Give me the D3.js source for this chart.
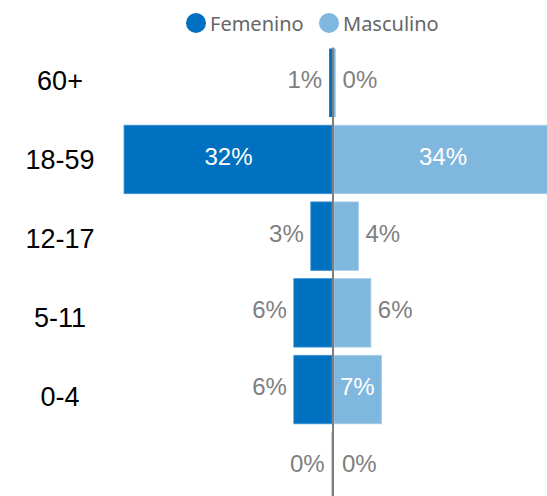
<!DOCTYPE html>
<html><head><meta charset="utf-8">
<script src="https://cdn.jsdelivr.net/npm/d3@7"></script>
<style>html,body{margin:0;padding:0;background:#fff;overflow:hidden}</style>
</head><body>
<script>
const categories = ["60+", "18-59", "12-17", "5-11", "0-4", ""];
const femenino = [0.6, 32, 3.4, 6.0, 6.0, 0.2];
const masculino = [0.4, 34, 3.9, 5.8, 7.45, 0];
const series = ["Femenino", "Masculino"];

const W = 547, H = 496;
const colors = {Femenino: "#0070C0", Masculino: "#7FB7DE"};
const strokes = {Femenino: "#3D93D3", Masculino: "#A9CFEA"};

const svg = d3.select("body").append("svg").attr("width", W).attr("height", H);

const x = d3.scaleLinear().domain([-50, 50]).range([333 - 326.5, 333 + 326.5]);
const y = d3.scaleBand().domain(categories.map((c,i)=>i)).range([44.4, 504.6]).paddingInner(0.107).paddingOuter(0.0535);
const yLab = d3.scaleBand().domain(categories.map((c,i)=>i)).range([40.5, 514.5]);

const data = categories.map((c, i) => ({i, c, f: femenino[i], m: masculino[i]}));

const g = svg.append("g");
// bars
g.selectAll("rect.f").data(data).join("rect")
  .attr("x", d => x(-d.f)).attr("width", d => x(0) - 1 - x(-d.f))
  .attr("y", d => y(d.i)).attr("height", y.bandwidth())
  .attr("fill", colors.Femenino)
  .attr("stroke", d => d.f > 1 ? strokes.Femenino : "none").attr("stroke-width", 0.8);
g.selectAll("rect.m").data(data).join("rect")
  .attr("x", x(0) + 1).attr("width", d => Math.max(0, x(d.m) - x(0) - 1))
  .attr("y", d => y(d.i)).attr("height", y.bandwidth())
  .attr("fill", colors.Masculino)
  .attr("stroke", d => d.m > 1 ? strokes.Masculino : "none").attr("stroke-width", 0.8);

// axis line
svg.append("line").attr("x1", x(0)).attr("x2", x(0)).attr("y1", y(0) - 1).attr("y2", H)
  .attr("stroke", "#7F7F7F").attr("stroke-width", 2);

// data labels
const fs = 24;
const ctx = document.createElement("canvas").getContext("2d");
ctx.font = fs + "px 'Liberation Sans', Arial, sans-serif";
function lbl(v){ return Math.round(v) + "%"; }
data.forEach(d => {
  const cy = y(d.i) + y.bandwidth()/2 - 3 + 0.358*fs;
  // femenino
  const tf = lbl(d.f), wf = ctx.measureText(tf).width, bwf = x(0) - x(-d.f);
  const insideF = wf + 12 < bwf;
  svg.append("text").text(tf)
    .attr("x", insideF ? (x(-d.f) + x(0))/2 : x(-d.f) - 7)
    .attr("y", cy).attr("text-anchor", insideF ? "middle" : "end")
    .attr("fill", insideF ? "#fff" : "#7F7F7F")
    .style("font", fs + "px 'Liberation Sans', Arial, sans-serif");
  const tm = lbl(d.m), wm = ctx.measureText(tm).width, bwm = x(d.m) - x(0);
  const insideM = wm + 12 < bwm;
  const xm = insideM ? (x(0) + Math.min(x(d.m), W + 6))/2 : Math.max(x(d.m), x(0)+2) + 7;
  svg.append("text").text(tm)
    .attr("x", xm)
    .attr("y", cy).attr("text-anchor", insideM ? "middle" : "start")
    .attr("fill", insideM ? "#fff" : "#7F7F7F")
    .style("font", fs + "px 'Liberation Sans', Arial, sans-serif");
});

// category labels
svg.selectAll("text.cat").data(data).join("text")
  .attr("class", "cat")
  .attr("x", 60).attr("y", d => yLab(d.i) + yLab.bandwidth()/2 + 0.358*27)
  .attr("text-anchor", "middle").attr("fill", "#000")
  .style("font", "27px 'Liberation Sans', Arial, sans-serif")
  .text(d => d.c);

// legend
const leg = svg.append("g");
const legX = [196, 329];
series.forEach((s, i) => {
  leg.append("circle").attr("cx", legX[i]).attr("cy", 23).attr("r", 10).attr("fill", colors[s]);
  leg.append("text").attr("x", legX[i] + 14).attr("y", 31).text(s)
    .attr("fill", "#666").style("font", "20px 'Noto Sans', sans-serif");
});
</script>
</body></html>
